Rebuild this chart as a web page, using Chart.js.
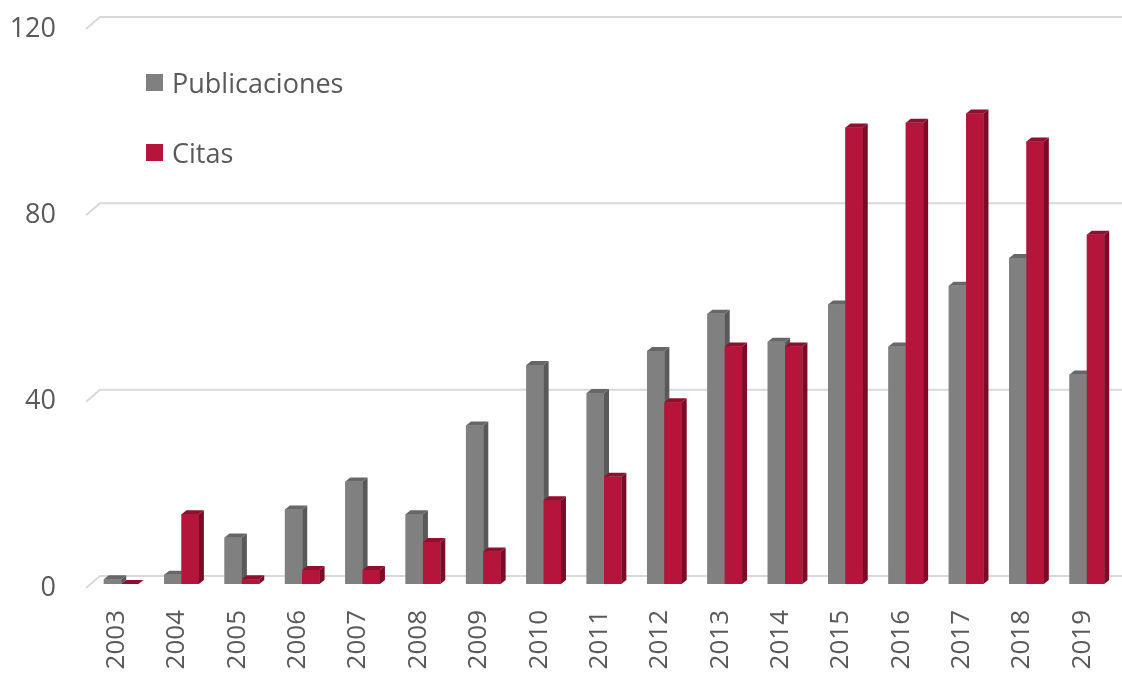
<!DOCTYPE html>
<html>
<head>
<meta charset="utf-8">
<title>Publicaciones y citas 2003–2019</title>
<script src="https://cdn.jsdelivr.net/npm/chart.js@4.4.1/dist/chart.umd.min.js"></script>
<style>
  html, body { margin: 0; padding: 0; background: #ffffff; }
  #wrap { position: relative; width: 1122px; height: 673px; overflow: hidden; }
  #chart { position: absolute; left: 0; top: 0; }
  #legend { position: absolute; left: 0; top: 0; font-family: 'Open Sans', sans-serif; font-size: 27px; color: #595959; }
  .legend-item { position: absolute; display: flex; align-items: center; white-space: nowrap; height: 36px; }
  .legend-swatch { width: 17px; height: 17px; margin-right: 9px; flex: none; }
</style>
</head>
<body>
<div id="wrap">
  <canvas id="chart" width="1122" height="673"></canvas>
  <div id="legend"></div>
</div>
<script>
// Years on the category axis
const years = ['2003', '2004', '2005', '2006', '2007', '2008', '2009', '2010', '2011',
               '2012', '2013', '2014', '2015', '2016', '2017', '2018', '2019'];

// Publications per year
const publicaciones = [1, 2, 10, 16, 22, 15, 34, 47, 41, 50, 58, 52, 60, 51, 64, 70, 45];

// Citations per year
const citas = [0, 15, 1, 3, 3, 9, 7, 18, 23, 39, 51, 51, 98, 99, 101, 95, 75];

// Value axis ticks
const yTicks = [0, 40, 80, 120];

const FONT = "'Open Sans', sans-serif";
const TEXT = '#595959';

// Extrusion of each column: side face to the right, top face going back
const DEPTH_X = 5;
const DEPTH_Y = 4;

// Back wall / floor geometry relative to the front of the columns
const WALL_SHIFT_Y = 8;    // wall lies this far above the column plane
const WALL_LEFT = 100;     // left edge of the back wall
const SLANT_X = 14;        // side-wall slant of each grid line
const SLANT_Y = 12;

const wallGrid = {
  id: 'wallGrid',
  beforeDatasetsDraw(chart) {
    const ctx = chart.ctx;
    const y = chart.scales.y;
    ctx.save();
    ctx.strokeStyle = '#d9d9d9';
    ctx.lineWidth = 2;
    ctx.lineJoin = 'round';
    yTicks.forEach(v => {
      const yb = y.getPixelForValue(v) - WALL_SHIFT_Y;
      ctx.beginPath();
      ctx.moveTo(WALL_LEFT - SLANT_X, yb + SLANT_Y);
      ctx.lineTo(WALL_LEFT, yb);
      ctx.lineTo(chart.width, yb);
      ctx.stroke();
    });
    ctx.restore();
  }
};

// Draws every column as a solid block (front, side and top faces),
// series by series, so each later series covers the side of the earlier one.
const columnDepth = {
  id: 'columnDepth',
  afterDatasetsDraw(chart) {
    const ctx = chart.ctx;
    ctx.save();
    chart.data.datasets.forEach((ds, i) => {
      const meta = chart.getDatasetMeta(i);
      meta.data.forEach(bar => {
        const p = bar.getProps(['x', 'y', 'base', 'width'], true);
        const x0 = p.x - p.width / 2;
        const x1 = p.x + p.width / 2;
        const top = Math.min(p.y, p.base);
        const bottom = Math.max(p.y, p.base);
        // front face
        ctx.fillStyle = ds.backgroundColor;
        ctx.fillRect(x0, top, x1 - x0, bottom - top);
        // side face
        ctx.fillStyle = ds.sideColor;
        ctx.beginPath();
        ctx.moveTo(x1, top);
        ctx.lineTo(x1 + DEPTH_X, top - DEPTH_Y);
        ctx.lineTo(x1 + DEPTH_X, bottom - DEPTH_Y);
        ctx.lineTo(x1, bottom);
        ctx.closePath();
        ctx.fill();
        // top face
        ctx.fillStyle = ds.topColor;
        ctx.beginPath();
        ctx.moveTo(x0, top);
        ctx.lineTo(x1, top);
        ctx.lineTo(x1 + DEPTH_X, top - DEPTH_Y);
        ctx.lineTo(x0 + DEPTH_X, top - DEPTH_Y);
        ctx.closePath();
        ctx.fill();
      });
    });
    ctx.restore();
  }
};

const chart = new Chart(document.getElementById('chart'), {
  type: 'bar',
  data: {
    labels: years,
    datasets: [
      {
        label: 'Publicaciones',
        data: publicaciones,
        backgroundColor: '#808080',
        sideColor: '#595959',
        topColor: '#676767'
      },
      {
        label: 'Citas',
        data: citas,
        backgroundColor: '#b5153b',
        sideColor: '#7a0c25',
        topColor: '#8e0f2e'
      }
    ]
  },
  options: {
    responsive: false,
    animation: false,
    devicePixelRatio: 1,
    layout: { padding: { top: 25, right: 5, left: 0, bottom: 0 } },
    datasets: {
      bar: {
        categoryPercentage: 0.575,
        barPercentage: 1.0,
        borderWidth: 0,
        minBarLength: 0
      }
    },
    plugins: {
      legend: { display: false },
      tooltip: { enabled: false },
      title: { display: false }
    },
    scales: {
      x: {
        grid: { display: false, drawTicks: false },
        border: { display: false },
        ticks: {
          autoSkip: false,
          minRotation: 90,
          maxRotation: 90,
          padding: 26,
          labelOffset: -4.5,
          color: TEXT,
          font: { family: FONT, size: 26 }
        },
        afterFit(scale) {
          scale.height = 89;
          scale.paddingLeft = 0;
          scale.paddingRight = 0;
        }
      },
      y: {
        min: 0,
        max: 120,
        grid: { display: false, drawTicks: false },
        border: { display: false },
        ticks: {
          stepSize: 40,
          padding: 35,
          labelOffset: 4,
          color: TEXT,
          font: { family: FONT, size: 27 }
        },
        afterFit(scale) {
          scale.width = 91;
          scale.paddingTop = 0;
          scale.paddingBottom = 0;
        }
      }
    }
  },
  plugins: [wallGrid, columnDepth]
});

// Legend built from the chart's datasets
const legendEl = document.getElementById('legend');
const legendRows = [82, 152];
chart.data.datasets.forEach((ds, i) => {
  const item = document.createElement('div');
  item.className = 'legend-item';
  item.style.left = '146px';
  item.style.top = (legendRows[i] - 18) + 'px';
  const sw = document.createElement('span');
  sw.className = 'legend-swatch';
  sw.style.background = ds.backgroundColor;
  const txt = document.createElement('span');
  txt.textContent = ds.label;
  item.appendChild(sw);
  item.appendChild(txt);
  legendEl.appendChild(item);
});
</script>
</body>
</html>
